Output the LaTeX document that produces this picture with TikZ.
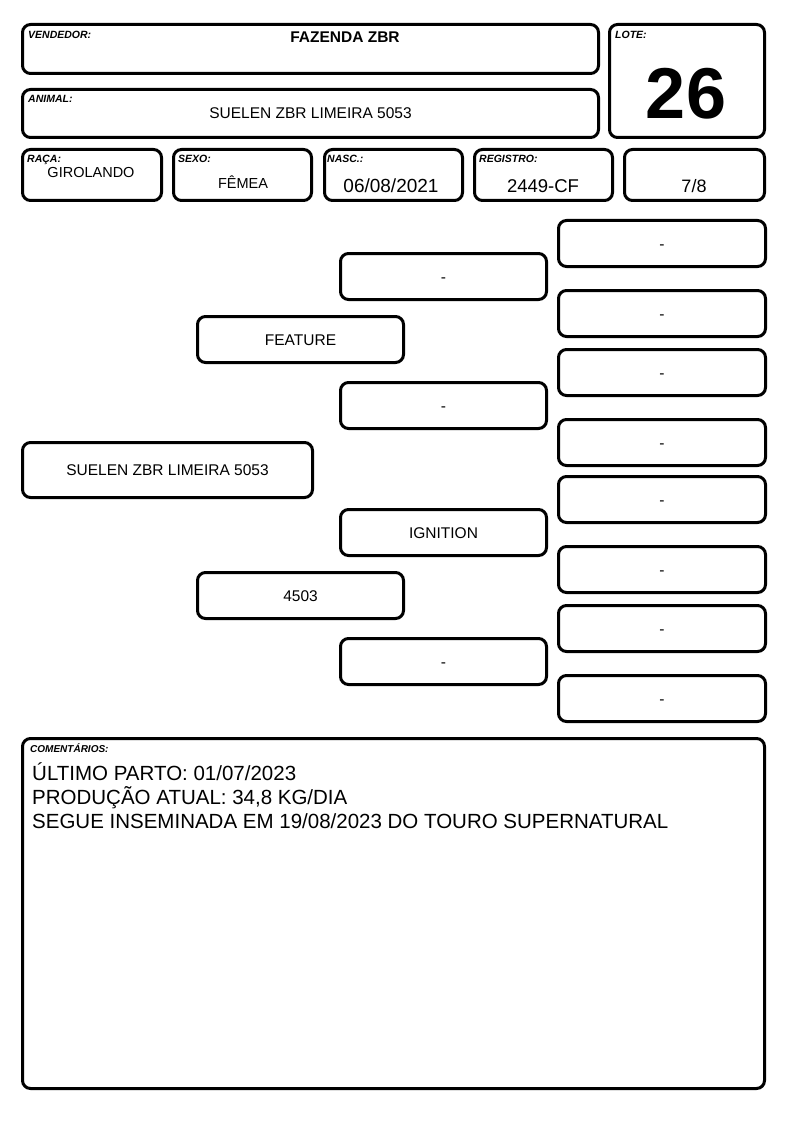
\documentclass[tikz,border=0pt]{standalone}
\usepackage{fontspec}
\setmainfont{Liberation Sans}
\begin{document}
\begin{tikzpicture}[x=1pt,y=-1pt,
  box/.style={draw=black,line width=3pt,rounded corners=8pt,inner sep=0pt,outer sep=0pt,fill=white},
  lbl/.style={anchor=base west,inner sep=0pt,font=\fontsize{10.5}{12}\selectfont\bfseries\itshape},
  ped/.style={box,minimum height=46pt,text height=11pt,text depth=0pt,font=\fontsize{15.5}{18}\selectfont},
  c4/.style={ped,minimum width=207pt},
  c3/.style={ped,minimum width=206pt},
  c2/.style={ped,minimum width=206pt},
  val/.style={anchor=base,inner sep=0pt}
]
\useasboundingbox (0,0) rectangle (794,1123);
\fill[white] (0,0) rectangle (794,1123);

% header boxes
\node[box,minimum width=576pt,minimum height=49pt] (vend) at (310.5,49) {};
\node[lbl] (vendl) at (28,39) {VENDEDOR:};
\node[val,font=\fontsize{15.5}{18}\selectfont\bfseries] (vendv) at (345,43) {FAZENDA ZBR};

\node[box,minimum width=576pt,minimum height=48pt] (anim) at (310.5,113.5) {};
\node[lbl] (animl) at (28,103) {ANIMAL:};
\node[val,font=\fontsize{15.5}{18}\selectfont] (animv) at (310.5,119) {SUELEN ZBR LIMEIRA 5053};

\node[box,minimum width=155pt,minimum height=113pt] (lote) at (687,81) {};
\node[lbl] (lotel) at (615,39) {LOTE:};
\node[val,font=\fontsize{72}{80}\selectfont\bfseries] (lotev) at (686,119) {26};

\node[box,minimum width=139pt,minimum height=51pt] (raca) at (92,175) {};
\node[lbl] (racal) at (27,163) {RAÇA:};
\node[val,font=\fontsize{14.5}{17}\selectfont] (racav) at (91,178) {GIROLANDO};

\node[box,minimum width=138pt,minimum height=51pt] (sexo) at (242.5,175) {};
\node[lbl] (sexol) at (178,163) {SEXO:};
\node[val,font=\fontsize{14.5}{17}\selectfont] (sexov) at (243,189) {FÊMEA};

\node[box,minimum width=138pt,minimum height=51pt] (nasc) at (393.5,175) {};
\node[lbl] (nascl) at (327,163) {NASC.:};
\node[val,font=\fontsize{19}{22}\selectfont] (nascv) at (391,193) {06/08/2021};

\node[box,minimum width=138pt,minimum height=51pt] (reg) at (543.5,175) {};
\node[lbl] (regl) at (479,163) {REGISTRO:};
\node[val,font=\fontsize{18.5}{22}\selectfont] (regv) at (543,193) {2449-CF};

\node[box,minimum width=140pt,minimum height=51pt] (frac) at (694.5,175) {};
\node[val,font=\fontsize{18}{22}\selectfont] (fracv) at (694,193) {7/8};

% pedigree
\node[ped,minimum width=290pt,minimum height=55pt] (p1) at (167.5,470) {SUELEN ZBR LIMEIRA 5053};

\node[c2] (p2a) at (300.5,339.5) {FEATURE};
\node[c2] (p2b) at (300.5,595.5) {4503};

\node[c3] (p3a) at (443.5,276.5) {-};
\node[c3] (p3b) at (443.5,405.5) {-};
\node[c3] (p3c) at (443.5,532.5) {IGNITION};
\node[c3] (p3d) at (443.5,661.5) {-};

\node[c4] (p4a) at (662,243.5) {-};
\node[c4] (p4b) at (662,313.5) {-};
\node[c4] (p4c) at (662,372.5) {-};
\node[c4] (p4d) at (662,442.5) {-};
\node[c4] (p4e) at (662,499.5) {-};
\node[c4] (p4f) at (662,569.5) {-};
\node[c4] (p4g) at (662,628.5) {-};
\node[c4] (p4h) at (662,698.5) {-};

% comments
\node[box,minimum width=742pt,minimum height=350pt] (com) at (393.5,913.5) {};
\node[lbl,font=\fontsize{10}{12}\selectfont\bfseries\itshape] (coml) at (30,752) {COMENTÁRIOS:};
\node[anchor=base west,inner sep=0pt,font=\fontsize{20.5}{24}\selectfont] (c1) at (32,780) {ÚLTIMO PARTO: 01/07/2023};
\node[anchor=base west,inner sep=0pt,font=\fontsize{20.5}{24}\selectfont] (c2) at (32,804) {PRODUÇÃO ATUAL: 34,8 KG/DIA};
\node[anchor=base west,inner sep=0pt,font=\fontsize{20.5}{24}\selectfont] (c3) at (32,828) {SEGUE INSEMINADA EM 19/08/2023 DO TOURO SUPERNATURAL};
\end{tikzpicture}
\end{document}
